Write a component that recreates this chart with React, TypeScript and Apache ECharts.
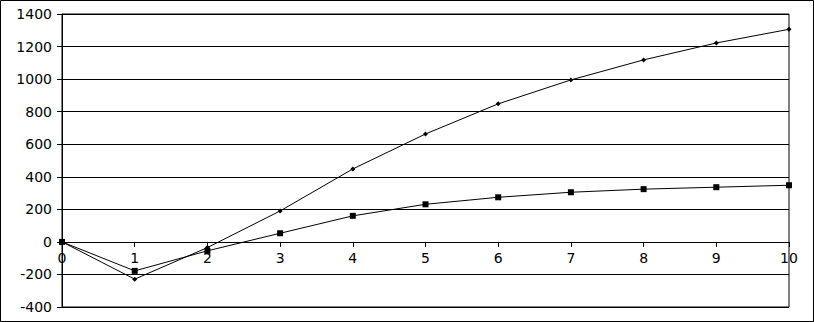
import React, { useEffect, useRef } from "react";
import * as echarts from "echarts";

const xValues = [0, 1, 2, 3, 4, 5, 6, 7, 8, 9, 10];
const seriesDiamond = [0, -229, -35, 190, 448, 663, 848, 995, 1118, 1222, 1306];
const seriesSquare = [0, -178, -55, 53, 160, 231, 274, 305, 324, 336, 348];

const Y_MIN = -400;
const Y_MAX = 1400;
const GRID_TOP = 14;
const GRID_BOTTOM = 15;
const HEIGHT = 322;

export default function App() {
  const ref = useRef<HTMLDivElement>(null);
  useEffect(() => {
    if (!ref.current) return;
    const chart = echarts.init(ref.current, null, { renderer: "svg" });
    const font = { fontFamily: "DejaVu Sans", fontSize: 14, color: "#000" };
    const plotH = HEIGHT - GRID_TOP - GRID_BOTTOM;
    const zeroOffset = -((0 - Y_MIN) / (Y_MAX - Y_MIN)) * plotH;
    chart.setOption({
      animation: false,
      backgroundColor: "#fff",
      grid: {
        left: 62,
        right: 25,
        top: GRID_TOP,
        bottom: GRID_BOTTOM,
        show: true,
        borderColor: "#000",
        borderWidth: 1,
        outerBoundsMode: "none",
        containLabel: false,
      },
      xAxis: {
        type: "value",
        min: 0,
        max: 10,
        interval: 1,
        offset: zeroOffset,
        axisLine: { onZero: false, lineStyle: { color: "#000", width: 1 } },
        axisTick: { show: true, length: 5, lineStyle: { color: "#000" } },
        axisLabel: { ...font, margin: 9, formatter: (v: number) => String(v) },
        splitLine: { show: false },
      },
      yAxis: {
        type: "value",
        min: Y_MIN,
        max: Y_MAX,
        interval: 200,
        axisLine: { show: true, onZero: false, lineStyle: { color: "#000", width: 1 } },
        axisTick: { show: true, length: 5, lineStyle: { color: "#000" } },
        axisLabel: { ...font, margin: 10, formatter: (v: number) => String(v) },
        splitLine: { show: true, lineStyle: { color: "#000", width: 1 } },
      },
      graphic: [
        {
          type: "rect",
          shape: { x: 0.5, y: 0.5, width: 813, height: 321 },
          style: { fill: "none", stroke: "#000", lineWidth: 1 },
          z: 100,
        },
      ],
      series: [
        {
          type: "line",
          data: xValues.map((x, i) => [x, seriesDiamond[i]]),
          symbol: "diamond",
          symbolSize: 5,
          lineStyle: { color: "#000", width: 1 },
          itemStyle: { color: "#000" },
        },
        {
          type: "line",
          data: xValues.map((x, i) => [x, seriesSquare[i]]),
          symbol: "rect",
          symbolSize: 6,
          lineStyle: { color: "#000", width: 1 },
          itemStyle: { color: "#000" },
        },
      ],
    });
    return () => chart.dispose();
  }, []);
  return (
    <div
      ref={ref}
      style={{ position: "fixed", left: 0, top: 0, width: 814, height: 322 }}
    />
  );
}
